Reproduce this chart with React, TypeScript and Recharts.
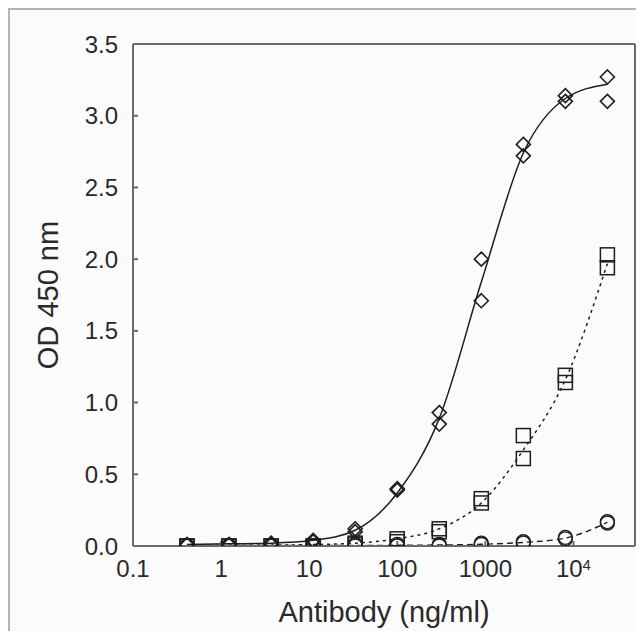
import { ComposedChart, Scatter, Line, XAxis, YAxis, Label } from "recharts"

// antibody concentration (ng/ml), 3-fold dilutions
const conc = [0.41, 1.23, 3.7, 11.1, 33.3, 100, 300, 900, 2700, 8100, 24300]

// replicate OD readings
const diamondA = [0.01, 0.01, 0.02, 0.04, 0.12, 0.40, 0.93, 2.00, 2.80, 3.14, 3.27]
const diamondB = [0.01, 0.01, 0.01, 0.03, 0.10, 0.39, 0.85, 1.71, 2.72, 3.10, 3.10]
const squareA = [0.0, 0.0, 0.0, 0.0, 0.02, 0.05, 0.12, 0.33, 0.77, 1.19, 2.03]
const squareB = [0.0, 0.0, 0.0, 0.0, 0.01, 0.03, 0.10, 0.30, 0.61, 1.14, 1.94]
const circleA = [0.0, 0.0, 0.0, 0.0, 0.01, 0.01, 0.0, 0.01, 0.03, 0.06, 0.17]
const circleB = [0.0, 0.0, 0.0, 0.0, 0.0, 0.0, 0.01, 0.02, 0.02, 0.05, 0.16]

// fitted curves at each concentration
const diamondFit = [0.01, 0.015, 0.02, 0.04, 0.11, 0.37, 0.89, 1.84, 2.74, 3.12, 3.22]
const squareFit = [0.005, 0.005, 0.006, 0.01, 0.02, 0.05, 0.12, 0.30, 0.67, 1.16, 1.97]
const circleFit = [0.003, 0.003, 0.003, 0.003, 0.004, 0.005, 0.007, 0.012, 0.025, 0.055, 0.165]

const xTicks = [0.1, 1, 10, 100, 1000, 10000]
const yTicks = [0, 0.5, 1, 1.5, 2, 2.5, 3, 3.5]

const pairs = (a: number[], b: number[]) =>
  conc.flatMap((x, i) => [{ x, y: a[i] }, { x, y: b[i] }])

const fitData = conc.map((x, i) => ({
  x,
  dia: diamondFit[i],
  sq: squareFit[i],
  ci: circleFit[i],
}))

const ink = "#1e1e1e"
const axisColor = "#6a6a6a"
const textColor = "#2a2a2a"
const font = "'Liberation Sans', Arial, sans-serif"

const Diamond = (p: any) => {
  const { cx, cy } = p
  const r = 7
  return (
    <path
      d={`M${cx},${cy - r}L${cx + r},${cy}L${cx},${cy + r}L${cx - r},${cy}Z`}
      fill="none"
      stroke={ink}
      strokeWidth={1.6}
    />
  )
}

const Square = (p: any) => {
  const { cx, cy } = p
  const r = 7
  return <rect x={cx - r} y={cy - r} width={2 * r} height={2 * r} fill="none" stroke={ink} strokeWidth={1.5} />
}

const Circle = (p: any) => {
  const { cx, cy } = p
  return <circle cx={cx} cy={cy} r={7} fill="none" stroke={ink} strokeWidth={1.4} />
}

const XTick = (p: any) => {
  const { x, y, payload } = p
  const v = payload.value
  if (v === 10000) {
    return (
      <text x={x} y={y} dy="0.71em" textAnchor="middle" fill={textColor} fontSize={24} fontFamily={font}>
        10
        <tspan dy="-0.45em" fontSize={15}>4</tspan>
      </text>
    )
  }
  return (
    <text x={x} y={y} dy="0.71em" textAnchor="middle" fill={textColor} fontSize={24} fontFamily={font}>
      {String(v)}
    </text>
  )
}

export default function App() {
  return (
    <div
      style={{
        width: 636,
        height: 623,
        boxSizing: "border-box",
        borderLeft: "2px solid #b4b4b4",
        borderTop: "2px solid #b4b4b4",
        background: "#fbfbfb",
        fontFamily: font,
      }}
    >
      <ComposedChart width={634} height={621} margin={{ top: 0, right: 0, bottom: 0, left: 0 }}>
        <XAxis
          dataKey="x"
          type="number"
          scale="log"
          domain={[0.1, 50000]}
          allowDataOverflow
          ticks={xTicks}
          interval={0}
          height={85}
          tickSize={-5}
          tickMargin={19}
          tick={<XTick />}
          stroke={axisColor}
          strokeWidth={2}
        >
          <Label
            value="Antibody (ng/ml)"
            position="insideBottom"
            offset={9}
            fontSize={29}
            fill={textColor}
            fontFamily={font}
          />
        </XAxis>
        <XAxis
          xAxisId="top"
          orientation="top"
          type="number"
          scale="log"
          domain={[0.1, 50000]}
          allowDataOverflow
          ticks={xTicks}
          interval={0}
          height={34}
          tickSize={-5}
          tick={false}
          stroke={axisColor}
          strokeWidth={2}
        />
        <YAxis
          dataKey="y"
          type="number"
          domain={[0, 3.5]}
          allowDataOverflow
          ticks={yTicks}
          interval={0}
          width={123}
          tickSize={-5}
          tickMargin={20}
          tickFormatter={(v: number) => v.toFixed(1)}
          tick={{ fontSize: 24, fill: textColor, fontFamily: font }}
          stroke={axisColor}
          strokeWidth={2}
        >
          <Label
            value="OD 450 nm"
            angle={-90}
            position="center"
            dx={-24}
            fontSize={29}
            fill={textColor}
            fontFamily={font}
          />
        </YAxis>
        <YAxis
          yAxisId="right"
          orientation="right"
          type="number"
          domain={[0, 3.5]}
          allowDataOverflow
          ticks={yTicks}
          interval={0}
          width={9}
          tickSize={-5}
          tick={false}
          stroke={axisColor}
          strokeWidth={2}
        />

        <Line data={fitData} dataKey="ci" type="monotone" stroke={ink} strokeWidth={1.4} strokeDasharray="6 4" dot={false} isAnimationActive={false} />
        <Line data={fitData} dataKey="sq" type="monotone" stroke={ink} strokeWidth={1.5} strokeDasharray="3 4" dot={false} isAnimationActive={false} />
        <Line data={fitData} dataKey="dia" type="monotone" stroke={ink} strokeWidth={1.5} dot={false} isAnimationActive={false} />

        <Scatter data={pairs(circleA, circleB)} shape={<Circle />} isAnimationActive={false} />
        <Scatter data={pairs(squareA, squareB)} shape={<Square />} isAnimationActive={false} />
        <Scatter data={pairs(diamondA, diamondB)} shape={<Diamond />} isAnimationActive={false} />
      </ComposedChart>
    </div>
  )
}
